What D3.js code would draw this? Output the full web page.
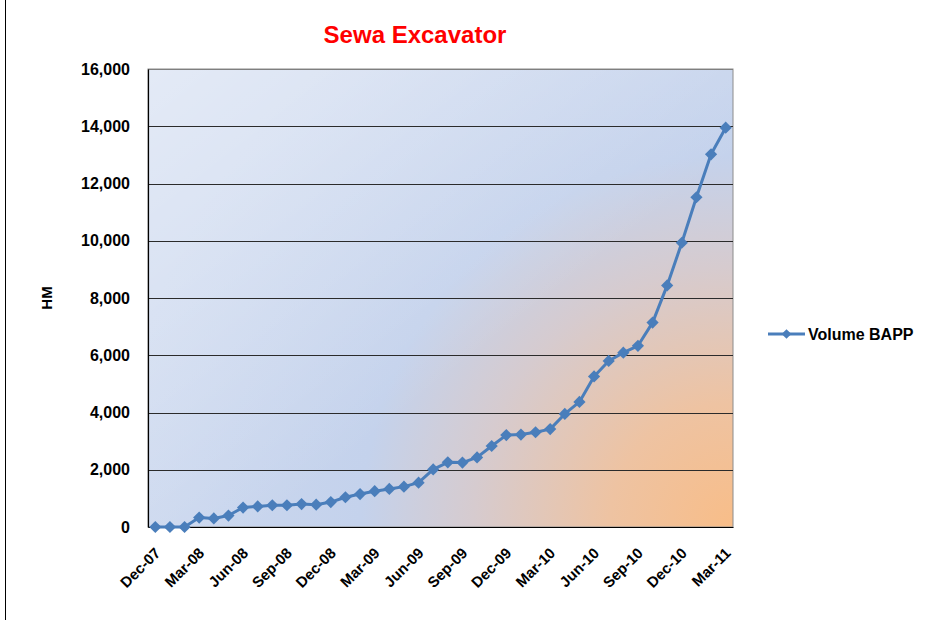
<!DOCTYPE html>
<html>
<head>
<meta charset="utf-8">
<script src="https://cdn.jsdelivr.net/npm/d3@7"></script>
<style>
  body { margin: 0; background: #fff; }
  svg { display: block; font-family: Arial, "Liberation Sans", sans-serif; }
</style>
</head>
<body>
<svg id="chart" width="929" height="620"></svg>
<script>
// monthly labels Dec-07 .. Mar-11
const months = ['Dec-07','Jan-08','Feb-08','Mar-08','Apr-08','May-08','Jun-08','Jul-08','Aug-08','Sep-08','Oct-08','Nov-08',
  'Dec-08','Jan-09','Feb-09','Mar-09','Apr-09','May-09','Jun-09','Jul-09','Aug-09','Sep-09','Oct-09','Nov-09',
  'Dec-09','Jan-10','Feb-10','Mar-10','Apr-10','May-10','Jun-10','Jul-10','Aug-10','Sep-10','Oct-10','Nov-10',
  'Dec-10','Jan-11','Feb-11','Mar-11'];
const volumeBAPP = [0, 0, 0, 330, 300, 400, 680, 720, 760, 760, 800, 780,
  870, 1040, 1150, 1250, 1330, 1410, 1550, 2010, 2260, 2250, 2430, 2830,
  3210, 3230, 3310, 3420, 3950, 4370, 5260, 5800, 6090, 6330, 7140, 8440,
  9930, 11520, 13020, 13950];
const yTicks = [0, 2000, 4000, 6000, 8000, 10000, 12000, 14000, 16000];
const shownMonths = months.filter((_, i) => i % 3 === 0);

const svg = d3.select('#chart');
const plot = { left: 148, right: 733, top: 69, bottom: 527 };
const font = 'Arial, "Liberation Sans", sans-serif';

const x = d3.scaleBand().domain(months).range([plot.left, plot.right]);
const y = d3.scaleLinear().domain([0, 16000]).range([plot.bottom, plot.top]);
const cx = d => x(d) + x.bandwidth() / 2;

// outer chart border (only the left edge is visible)
svg.append('line').attr('x1', 5.5).attr('x2', 5.5).attr('y1', 0).attr('y2', 620)
  .attr('stroke', '#000').attr('stroke-width', 1);

// plot area fill: orange glow from bottom-right into blue, lighter at top-left
const defs = svg.append('defs');
const glow = defs.append('radialGradient').attr('id', 'bg')
  .attr('gradientUnits', 'userSpaceOnUse')
  .attr('cx', plot.right).attr('cy', plot.bottom).attr('r', 620);
[['0', '#f8bd88'], ['0.2', '#eec3a2'], ['0.42', '#d6cbcf'], ['0.6', '#c4d2ec'], ['1', '#cdd9ef']].forEach(s => {
  glow.append('stop').attr('offset', s[0]).attr('stop-color', s[1]);
});
const sheen = defs.append('linearGradient').attr('id', 'sheen')
  .attr('x1', '0%').attr('y1', '0%').attr('x2', '60%').attr('y2', '60%');
sheen.append('stop').attr('offset', '0').attr('stop-color', '#fff').attr('stop-opacity', 0.45);
sheen.append('stop').attr('offset', '1').attr('stop-color', '#fff').attr('stop-opacity', 0);

const area = {
  x: plot.left, y: plot.top, width: plot.right - plot.left, height: plot.bottom - plot.top
};
svg.append('rect').attr('x', area.x).attr('y', area.y).attr('width', area.width).attr('height', area.height)
  .attr('fill', 'url(#bg)');
svg.append('rect').attr('x', area.x).attr('y', area.y).attr('width', area.width).attr('height', area.height)
  .attr('fill', 'url(#sheen)').attr('stroke', '#8c8c8c').attr('stroke-width', 1);

// gridlines
svg.append('g').selectAll('line').data(yTicks.filter(t => t > 0)).join('line')
  .attr('x1', plot.left).attr('x2', plot.right)
  .attr('y1', d => Math.round(y(d)) + 0.5).attr('y2', d => Math.round(y(d)) + 0.5)
  .attr('stroke', d => d === 16000 ? '#7f7f7f' : '#2b2b2b').attr('stroke-width', 1.2);

// y axis
const yAxis = svg.append('g').attr('transform', `translate(${plot.left},0)`)
  .call(d3.axisLeft(y).tickValues(yTicks).tickSize(0).tickPadding(18).tickFormat(d3.format(',')));
yAxis.select('.domain').attr('stroke', '#000').attr('stroke-width', 1.2);
yAxis.selectAll('text').attr('font-size', 16).attr('font-weight', 'bold').attr('fill', '#000')
  .attr('font-family', font);

// x axis
const xAxis = svg.append('g').attr('transform', `translate(0,${plot.bottom})`)
  .call(d3.axisBottom(x).tickValues(shownMonths).tickSize(0).tickPadding(0));
xAxis.select('.domain').attr('stroke', '#000').attr('stroke-width', 1.2);
xAxis.selectAll('text')
  .attr('font-size', 15).attr('font-weight', 'bold').attr('fill', '#000')
  .attr('font-family', font)
  .attr('text-anchor', 'end').attr('dy', null).attr('y', 0)
  .attr('transform', 'translate(6,27) rotate(-45)');

// y axis title
svg.append('text').attr('transform', `translate(52,${(plot.top + plot.bottom) / 2}) rotate(-90)`)
  .attr('text-anchor', 'middle').attr('font-size', 15).attr('font-weight', 'bold').text('HM');

// title
svg.append('text').attr('x', 415).attr('y', 43).attr('text-anchor', 'middle')
  .attr('font-size', 24).attr('font-weight', 'bold').attr('fill', '#ff0000').text('Sewa Excavator');

// series
const lineColor = '#4a7ebb';
const line = d3.line().x((d, i) => cx(months[i])).y(d => y(d));
svg.append('path').datum(volumeBAPP).attr('d', line)
  .attr('fill', 'none').attr('stroke', lineColor).attr('stroke-width', 3).attr('stroke-linejoin', 'round');

const diamond = d3.symbol().type(d3.symbolDiamond2).size(95);
svg.append('g').selectAll('path').data(volumeBAPP).join('path')
  .attr('d', diamond)
  .attr('transform', (d, i) => `translate(${cx(months[i])},${y(d)})`)
  .attr('fill', lineColor);

// legend
const lg = svg.append('g').attr('transform', 'translate(768,334)');
lg.append('line').attr('x1', 0).attr('x2', 37).attr('stroke', lineColor).attr('stroke-width', 3);
lg.append('path').attr('d', d3.symbol().type(d3.symbolDiamond2).size(60)).attr('transform', 'translate(18.5,0)')
  .attr('fill', lineColor);
lg.append('text').attr('x', 40).attr('y', 6).attr('font-size', 16).attr('font-weight', 'bold').text('Volume BAPP');
</script>
</body>
</html>
